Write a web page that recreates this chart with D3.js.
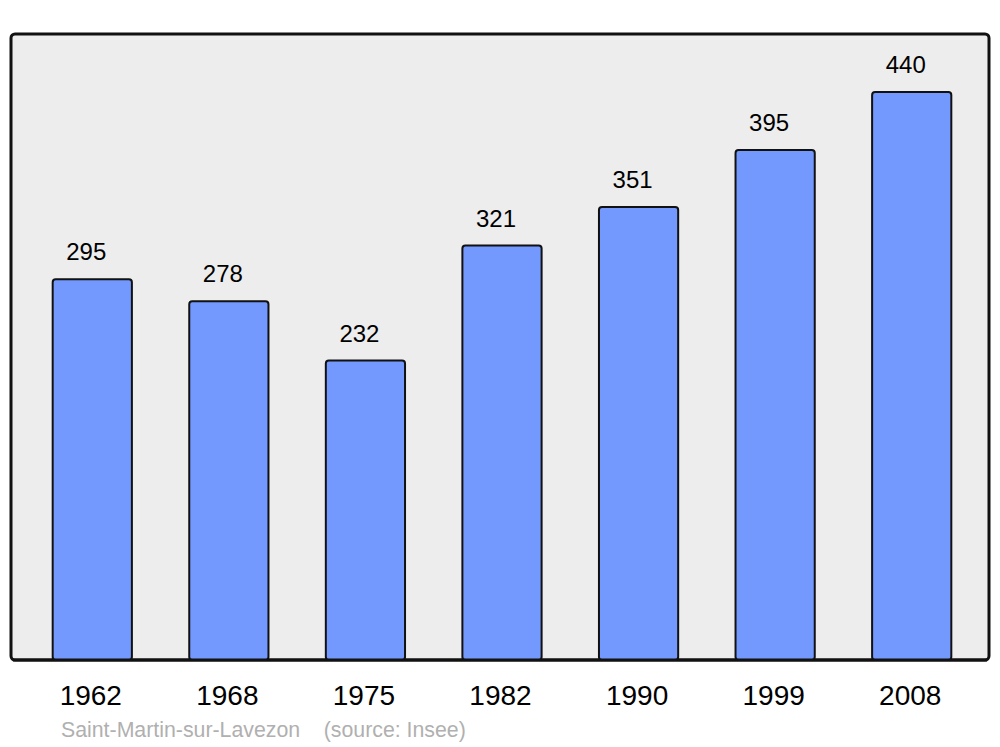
<!DOCTYPE html>
<html>
<head>
<meta charset="utf-8">
<script src="https://cdn.jsdelivr.net/npm/d3@7"></script>
<style>
  body { margin: 0; background: #fff; }
  text { font-family: "Liberation Sans", Arial, sans-serif; }
</style>
</head>
<body>
<div id="chart-area"></div>
<script>
// data
var years = ["1962", "1968", "1975", "1982", "1990", "1999", "2008"];
var population = [295, 278, 232, 321, 351, 395, 440];
var commune = "Saint-Martin-sur-Lavezon";
var source = "(source: Insee)";

var width = 1000, height = 747;

var svg = d3.select("#chart-area").append("svg")
    .attr("width", width)
    .attr("height", height);

// frame
var frame = { left: 11, right: 989, top: 34, bottom: 660 };

svg.append("rect")
    .attr("x", frame.left)
    .attr("y", frame.top)
    .attr("width", frame.right - frame.left)
    .attr("height", frame.bottom - frame.top)
    .attr("rx", 4)
    .attr("fill", "#ededed")
    .attr("stroke", "#111")
    .attr("stroke-width", 3);

// scales
var x = d3.scalePoint()
    .domain(years)
    .range([24, 980])
    .padding(0.5);
var barWidth = x.step() * 0.58;

var y = d3.scaleLinear()
    .domain([0, 440])
    .range([frame.bottom, 92]);

var data = years.map((yr, i) => ({ year: yr, value: population[i] }));

// bars
svg.selectAll(".bar")
    .data(data)
    .enter().append("rect")
    .attr("class", "bar")
    .attr("x", d => x(d.year) - barWidth / 2)
    .attr("y", d => y(d.value))
    .attr("width", barWidth)
    .attr("height", d => y(0) - y(d.value))
    .attr("rx", 3)
    .attr("fill", "#7399ff")
    .attr("stroke", "#111")
    .attr("stroke-width", 2);

// redraw bottom frame line over bars
svg.append("line")
    .attr("x1", frame.left + 2)
    .attr("x2", frame.right - 2)
    .attr("y1", frame.bottom)
    .attr("y2", frame.bottom)
    .attr("stroke", "#111")
    .attr("stroke-width", 3);

// value labels
svg.selectAll(".val")
    .data(data)
    .enter().append("text")
    .attr("class", "val")
    .attr("x", d => x(d.year) - 6)
    .attr("y", d => y(d.value) - 19)
    .attr("text-anchor", "middle")
    .attr("font-size", 24)
    .attr("fill", "#000")
    .text(d => d.value);

// x axis labels
var xAxis = svg.append("g")
    .attr("transform", "translate(-2," + (frame.bottom + 25) + ")")
    .call(d3.axisBottom(x).tickSize(0).tickPadding(0));
xAxis.select(".domain").remove();
xAxis.selectAll("text")
    .attr("font-size", 28)
    .attr("font-family", "Liberation Sans, Arial, sans-serif")
    .attr("fill", "#000");

// caption
svg.append("text")
    .attr("x", 61)
    .attr("y", 737)
    .attr("font-size", 21.3)
    .attr("fill", "#b0b0b0")
    .attr("xml:space", "preserve")
    .text(commune + "    " + source);
</script>
</body>
</html>
